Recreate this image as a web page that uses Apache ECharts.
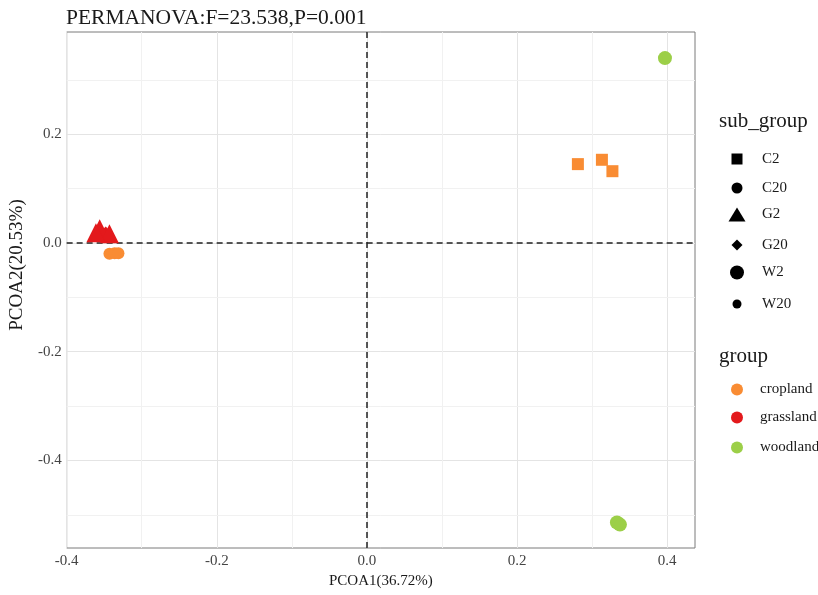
<!DOCTYPE html>
<html><head><meta charset="utf-8">
<script src="https://cdn.jsdelivr.net/npm/echarts@6/dist/echarts.min.js"></script>
<style>html,body{margin:0;padding:0;background:#fff}#c{width:818px;height:595px}</style>
</head><body><div id="c"></div>
<script>
// ---- data ----
const subGroups = ['C2','C20','G2','G20','W2','W20'];
const subGroupOf = {C2:'cropland',C20:'cropland',G2:'grassland',G20:'grassland',W2:'woodland',W20:'woodland'};
const groups = ['cropland','grassland','woodland'];
const C2  = [[0.281,0.145],[0.313,0.153],[0.327,0.132]];
const C20 = [[-0.343,-0.020],[-0.336,-0.019],[-0.331,-0.019]];
const G2  = [[-0.356,0.026],[-0.343,0.017],[-0.361,0.019]];
const G20 = [[-0.352,0.018],[-0.348,0.020],[-0.355,0.015]];
const W2  = [[0.397,0.340],[0.333,-0.514],[0.337,-0.518]];
const W20 = [[0.399,0.342],[0.331,-0.512],[0.336,-0.517]];
const xTicks = [-0.4,-0.2,0.0,0.2,0.4];
const yTicks = [-0.4,-0.2,0.0,0.2];
const xMinor = [-0.3,-0.1,0.1,0.3];
const yMinor = [-0.5,-0.3,-0.1,0.1,0.3];
const titleText = 'PERMANOVA:F=23.538,P=0.001';
const xName = 'PCOA1(36.72%)';
const yName = 'PCOA2(20.53%)';

// ---- styles ----
const colors = {cropland:'#F98C33', grassland:'#E3191C', woodland:'#9CCF48'};
const shapes = {C2:'rect',C20:'circle',G2:'triangle',G20:'diamond',W2:'circle',W20:'circle'};
const plotSize = {C2:12,C20:12,G2:19,G20:11,W2:14,W20:9};
const legSize = {C2:[11,11],C20:[11,11],G2:[17,14],G20:[11,11],W2:[14,14],W20:[9,9]};
const dataOf = {C2,C20,G2,G20,W2,W20};
const FONT = '"Liberation Serif","DejaVu Serif",serif';
const drawOrder = ['C2','C20','G20','G2','W2','W20'];

const gridLines = [];
xTicks.forEach(v=>gridLines.push({xAxis:v,lineStyle:{color:'#e4e4e4',width:1,type:'solid'}}));
yTicks.forEach(v=>gridLines.push({yAxis:v,lineStyle:{color:'#e4e4e4',width:1,type:'solid'}}));
xMinor.forEach(v=>gridLines.push({xAxis:v,lineStyle:{color:'#f1f1f1',width:1,type:'solid'}}));
yMinor.forEach(v=>gridLines.push({yAxis:v,lineStyle:{color:'#f1f1f1',width:1,type:'solid'}}));

const series = drawOrder.map(sg=>({
  name: sg, type:'scatter', data: dataOf[sg], symbol: shapes[sg], symbolSize: plotSize[sg],
  itemStyle:{color: colors[subGroupOf[sg]], opacity:1}, z: 3
}));
series.unshift({
  name:'_grid', type:'scatter', data:[], silent:true,
  markLine:{silent:true, symbol:'none', z:1, label:{show:false}, animation:false,
    data: gridLines.concat([
      {xAxis:0, lineStyle:{color:'#222',width:1.5,type:[6,4]}},
      {yAxis:0, lineStyle:{color:'#222',width:1.5,type:[6,4]}}
    ])}
});
groups.forEach(g=>series.push({name:g,type:'scatter',data:[],itemStyle:{color:colors[g],opacity:1}}));

const legends = [];
const legY = [157,186,214,243,272,301];
subGroups.forEach((sg,i)=>{
  const [w,h] = legSize[sg];
  legends.push({
    left: 737 - w/2, top: legY[i] - h/2, orient:'vertical', selectedMode:false,
    itemWidth:w, itemHeight:h, padding:0,
    data:[{name:sg, icon: shapes[sg], itemStyle:{color:'#000', opacity:1}}],
    textStyle:{fontFamily:FONT, fontSize:15, color:'#1a1a1a', padding:[0,0,0, 762-(737+w/2)-5]}
  });
});
const grpY = [388,416,446];
groups.forEach((g,i)=>{
  legends.push({
    left: 737-6, top: grpY[i]-6, selectedMode:false, itemWidth:12, itemHeight:12, padding:0,
    data:[{name:g, icon:'circle', itemStyle:{color:colors[g], opacity:1}}],
    textStyle:{fontFamily:FONT, fontSize:15, color:'#1a1a1a', padding:[0,0,0, 760-743-5]}
  });
});

const chart = echarts.init(document.getElementById('c'), null, {renderer:'canvas'});
chart.setOption({
  animation:false,
  backgroundColor:'#fff',
  title:[
    {text:titleText, left:61, top:2, textStyle:{fontFamily:FONT, fontSize:21.5, fontWeight:'normal', color:'#1a1a1a'}},
    {text:'sub_group', left:714, top:106, textStyle:{fontFamily:FONT, fontSize:21, fontWeight:'normal', color:'#1a1a1a'}},
    {text:'group', left:714, top:341, textStyle:{fontFamily:FONT, fontSize:21, fontWeight:'normal', color:'#1a1a1a'}}
  ],
  legend: legends,
  grid:{left:66, top:32, right:123, bottom:47, show:true, borderColor:'#7a7a7a', borderWidth:1, backgroundColor:'transparent'},
  xAxis:{type:'value', min:-0.4, max:0.437,
    name:xName, nameLocation:'middle', nameGap:25,
    nameTextStyle:{fontFamily:FONT, fontSize:15, color:'#1a1a1a'},
    axisLine:{show:false}, splitLine:{show:false},
    axisTick:{show:true, length:4, lineStyle:{color:'#7a7a7a'}, customValues:xTicks},
    axisLabel:{customValues:xTicks, fontFamily:FONT, fontSize:15, color:'#444', margin:6, formatter:v=>Number(v).toFixed(1)}
  },
  yAxis:{type:'value', min:-0.561, max:0.388,
    name:yName, nameLocation:'middle', nameGap:35,
    nameTextStyle:{fontFamily:FONT, fontSize:19, color:'#1a1a1a', padding:[0,0,0,50]},
    axisLine:{show:false}, splitLine:{show:false},
    axisTick:{show:true, length:4, lineStyle:{color:'#7a7a7a'}, customValues:yTicks},
    axisLabel:{customValues:yTicks, fontFamily:FONT, fontSize:15, color:'#444', margin:5, formatter:v=>Number(v).toFixed(1)}
  },
  series: series
});
</script></body></html>
